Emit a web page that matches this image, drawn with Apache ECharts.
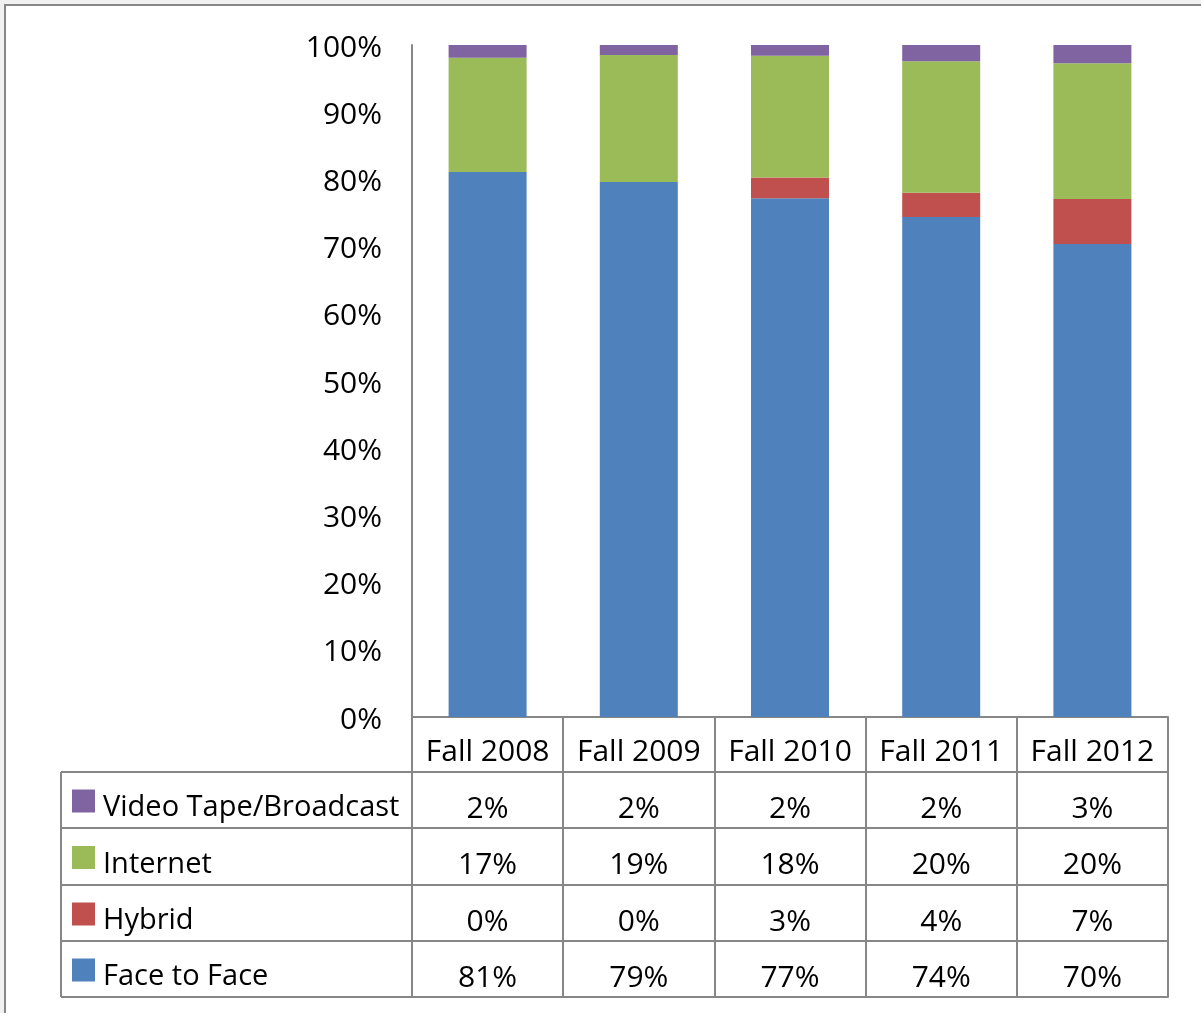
<!DOCTYPE html>
<html>
<head>
<meta charset="utf-8">
<title>Enrollment by delivery method</title>
<script src="https://cdn.jsdelivr.net/npm/echarts@6/dist/echarts.min.js"></script>
<style>
  html, body { margin: 0; padding: 0; background: #f1f1f1; }
  #main { width: 1201px; height: 1013px; }
</style>
</head>
<body>
<div id="main"></div>
<script>
// categories
const terms = ['Fall 2008', 'Fall 2009', 'Fall 2010', 'Fall 2011', 'Fall 2012'];

// bar heights (percent)
const faceToFace = [81.1, 79.6, 77.2, 74.4, 70.4];
const hybrid = [0, 0, 3.1, 3.6, 6.7];
const internet = [17.0, 18.9, 18.1, 19.6, 20.2];
const videoTape = [1.9, 1.5, 1.6, 2.4, 2.7];

// rounded values printed in the data table
const videoTapePct = [2, 2, 2, 2, 3];
const internetPct = [17, 19, 18, 20, 20];
const hybridPct = [0, 0, 3, 4, 7];
const faceToFacePct = [81, 79, 77, 74, 70];

// table row names, top to bottom
const rowNames = ['Video Tape/Broadcast', 'Internet', 'Hybrid', 'Face to Face'];

// y axis ticks
const yMin = 0, yMax = 100, yStep = 10;

const font = 'Open Sans';
const lineGrey = '#878787';

// layout of the chart + table
const gridLeft = 412, gridRight = 1168, gridTop = 45, gridBottom = 717;
const rowOffsets = [0, 55, 111, 168, 224, 280];
const tableLeft = 61;

var chart = echarts.init(document.getElementById('main'));

// one axis per table row, the labels are the row values
function tableAxis(offset, tickLen, values, margin) {
  return {
    type: 'category',
    data: terms,
    position: 'bottom',
    offset: offset,
    axisLine: { show: true, lineStyle: { color: lineGrey, width: 2 } },
    axisTick: { show: tickLen > 0, length: tickLen, interval: 0, lineStyle: { color: lineGrey, width: 2 } },
    axisLabel: {
      show: !!values,
      interval: 0,
      margin: margin || 37,
      verticalAlign: 'middle',
      color: '#000',
      fontFamily: font,
      fontSize: 30,
      formatter: function (v, i) { return values ? values[i] + '%' : ''; }
    },
    splitLine: { show: false }
  };
}

var headerAxis = tableAxis(rowOffsets[0], rowOffsets[1] - rowOffsets[0], null, 35);
headerAxis.axisLabel.show = true;
headerAxis.axisLabel.formatter = function (v) { return v; };

// frame of the row name column
var rowLines = [];
for (let i = 1; i < rowOffsets.length; i++) {
  rowLines.push({
    type: 'line',
    shape: { x1: tableLeft, y1: gridBottom + rowOffsets[i], x2: gridLeft, y2: gridBottom + rowOffsets[i] },
    style: { stroke: lineGrey, lineWidth: 2 },
    z: 10
  });
}
rowLines.push({
  type: 'line',
  shape: { x1: tableLeft, y1: gridBottom + rowOffsets[1], x2: tableLeft, y2: gridBottom + rowOffsets[5] },
  style: { stroke: lineGrey, lineWidth: 2 },
  z: 10
});
rowLines.push({
  type: 'line',
  shape: { x1: gridLeft, y1: gridBottom + rowOffsets[1], x2: gridLeft, y2: gridBottom + rowOffsets[5] },
  style: { stroke: lineGrey, lineWidth: 2 },
  z: 10
});

// one legend per table row so each key sits in its own row
var legends = rowNames.map(function (name, i) {
  var mid = gridBottom + (rowOffsets[i + 1] + rowOffsets[i + 2]) / 2 + 1;
  return {
    orient: 'vertical',
    left: 72,
    top: mid - 11.5,
    padding: 0,
    itemWidth: 23,
    itemHeight: 23,
    icon: 'rect',
    selectedMode: false,
    data: [name],
    textStyle: {
      fontFamily: font, fontSize: 29, color: '#000',
      rich: { t: { fontFamily: font, fontSize: 29, color: '#000', padding: [14, 0, 0, 3] } }
    },
    formatter: '{t|{name}}'
  };
});

chart.setOption({
  backgroundColor: '#f1f1f1',
  animation: false,
  color: ['#4F81BD', '#C0504D', '#9BBB59', '#8064A2'],
  graphic: [
    {
      // outer frame of the figure
      type: 'rect',
      shape: { x: 5, y: 5, width: 1300, height: 1100 },
      style: { fill: '#fff', stroke: lineGrey, lineWidth: 2 },
      z: -10
    }
  ].concat(rowLines),
  legend: legends,
  grid: {
    left: gridLeft,
    top: gridTop,
    width: gridRight - gridLeft,
    height: gridBottom - gridTop
  },
  xAxis: [
    headerAxis,
    tableAxis(rowOffsets[1], rowOffsets[2] - rowOffsets[1], videoTapePct),
    tableAxis(rowOffsets[2], rowOffsets[3] - rowOffsets[2], internetPct),
    tableAxis(rowOffsets[3], rowOffsets[4] - rowOffsets[3], hybridPct),
    tableAxis(rowOffsets[4], rowOffsets[5] - rowOffsets[4], faceToFacePct),
    tableAxis(rowOffsets[5], 0, null)
  ],
  yAxis: {
    type: 'value',
    min: yMin,
    max: yMax,
    interval: yStep,
    axisLine: { show: true, lineStyle: { color: lineGrey, width: 2 } },
    axisTick: { show: false },
    splitLine: { show: false },
    axisLabel: {
      margin: 30,
      color: '#000',
      fontFamily: font,
      fontSize: 30,
      formatter: '{v|{value}%}',
      rich: { v: { fontFamily: font, fontSize: 30, color: '#000', padding: [6, 0, 0, 0] } }
    }
  },
  series: [
    { name: 'Face to Face', type: 'bar', stack: 'all', barWidth: 78, data: faceToFace },
    { name: 'Hybrid', type: 'bar', stack: 'all', barWidth: 78, data: hybrid },
    { name: 'Internet', type: 'bar', stack: 'all', barWidth: 78, data: internet },
    { name: 'Video Tape/Broadcast', type: 'bar', stack: 'all', barWidth: 78, data: videoTape }
  ]
});
</script>
</body>
</html>
